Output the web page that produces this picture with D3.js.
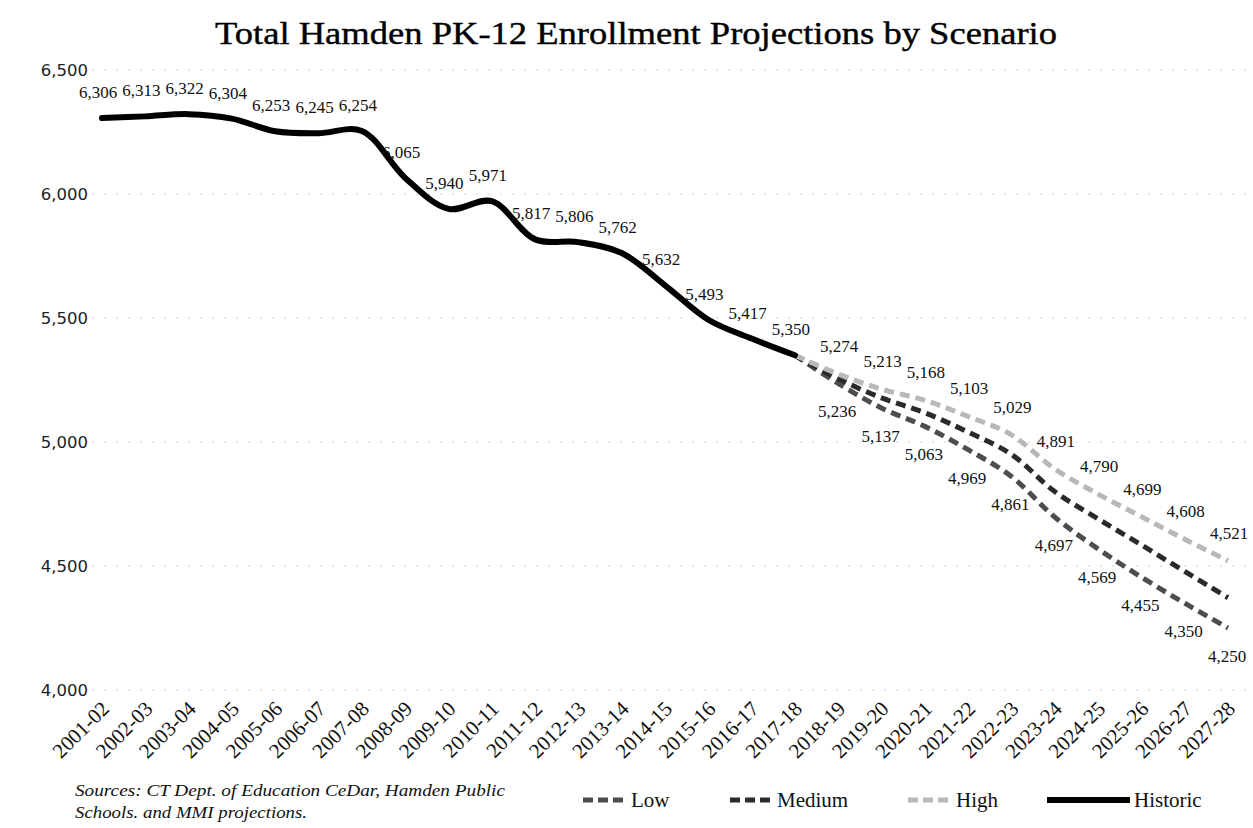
<!DOCTYPE html>
<html>
<head>
<meta charset="utf-8">
<script src="https://cdn.jsdelivr.net/npm/d3@7"></script>
<style>
  html, body { margin: 0; padding: 0; background: #fff; }
  svg { display: block; }
</style>
</head>
<body>
<svg id="chart" width="1253" height="828"></svg>
<script>
const categories = ["2001-02","2002-03","2003-04","2004-05","2005-06","2006-07","2007-08","2008-09","2009-10","2010-11","2011-12","2012-13","2013-14","2014-15","2015-16","2016-17","2017-18","2018-19","2019-20","2020-21","2021-22","2022-23","2023-24","2024-25","2025-26","2026-27","2027-28"];
const historic = [6306,6313,6322,6304,6253,6245,6254,6065,5940,5971,5817,5806,5762,5632,5493,5417,5350];
// projections start from the last historic year (2017-18)
const projYears = ["2017-18","2018-19","2019-20","2020-21","2021-22","2022-23","2023-24","2024-25","2025-26","2026-27","2027-28"];
const low    = [5350,5236,5137,5063,4969,4861,4697,4569,4455,4350,4250];
const medium = [5350,5255,5178,5118,5040,4950,4800,4690,4585,4478,4372];
const high   = [5350,5274,5213,5168,5103,5029,4891,4790,4699,4608,4521];
const yTicks = [4000,4500,5000,5500,6000,6500];

const svg = d3.select("#chart");
const serif = "'Liberation Serif', 'Times New Roman', serif";
const sans = "'DejaVu Sans', Verdana, sans-serif";

const x = d3.scalePoint().domain(categories).range([102, 1228]);
const y = d3.scaleLinear().domain([4000, 6500]).range([690, 70]);
const fmt = d3.format(",");

// Title
svg.append("text")
  .attr("x", 636).attr("y", 44)
  .attr("text-anchor", "middle")
  .attr("font-family", serif).attr("font-size", 31)
  .attr("textLength", 842).attr("lengthAdjust", "spacingAndGlyphs")
  .attr("fill", "#000").attr("stroke", "#000").attr("stroke-width", 0.4)
  .text("Total Hamden PK-12 Enrollment Projections by Scenario");

// Gridlines
svg.append("g").selectAll("line").data(yTicks).join("line")
  .attr("x1", 80).attr("x2", 1250)
  .attr("y1", d => y(d)).attr("y2", d => y(d))
  .attr("stroke", "#cfcfcf").attr("stroke-width", 1)
  .attr("stroke-dasharray", "2,10");

// Y axis labels
const yAxis = d3.axisLeft(y).tickValues(yTicks).tickFormat(fmt).tickSize(0).tickPadding(0);
const yg = svg.append("g").attr("transform", "translate(88,0)").call(yAxis);
yg.select(".domain").remove();
yg.selectAll("text").attr("font-family", sans).attr("font-size", 16.5).attr("fill", "#222");

// X axis labels
const xAxis = d3.axisBottom(x).tickSize(0).tickPadding(0);
const xg = svg.append("g").attr("transform", "translate(0,700)").call(xAxis);
xg.select(".domain").remove();
xg.selectAll("text")
  .attr("font-family", serif).attr("font-size", 21).attr("fill", "#111")
  .attr("text-anchor", "end")
  .attr("dy", null)
  .attr("transform", "translate(8,10) rotate(-45)");

// Lines
const lineGen = d3.line().curve(d3.curveCatmullRom.alpha(0.5));
const histPts = historic.map((v, i) => [x(categories[i]), y(v)]);
const series = [
  {name: "Low", vals: low, color: "#4d4d4d", dash: "10,6"},
  {name: "Medium", vals: medium, color: "#2a2a2a", dash: "10,6"},
  {name: "High", vals: high, color: "#b8b8b8", dash: "10,6"}
];
series.forEach(s => {
  svg.append("path")
    .attr("d", lineGen(s.vals.map((v, i) => [x(projYears[i]), y(v)])))
    .attr("fill", "none").attr("stroke", s.color)
    .attr("stroke-width", 5).attr("stroke-dasharray", s.dash)
    .attr("stroke-linecap", "butt");
});
svg.append("path")
  .attr("d", lineGen(histPts))
  .attr("fill", "none").attr("stroke", "#000")
  .attr("stroke-width", 6).attr("stroke-linecap", "round");

// Data labels
const lbl = svg.append("g").attr("font-family", serif).attr("font-size", 17).attr("fill", "#111").attr("text-anchor", "middle");
historic.forEach((v, i) => {
  lbl.append("text").attr("x", x(categories[i]) - 4).attr("y", y(v) - 20).text(fmt(v));
});
high.slice(1).forEach((v, i) => {
  lbl.append("text").attr("x", x(projYears[i + 1]) + 1).attr("y", y(v) - 22).text(fmt(v));
});
low.slice(1).forEach((v, i) => {
  lbl.append("text").attr("x", x(projYears[i + 1]) - 1).attr("y", y(v) + 34).text(fmt(v));
});

// Legend
const legY = 800;
const legend = svg.append("g");
const legItems = [
  {name: "Low", color: "#4d4d4d", x0: 583, x1: 627, dash: "10,5", w: 5},
  {name: "Medium", color: "#2a2a2a", x0: 730, x1: 773, dash: "10,5", w: 5},
  {name: "High", color: "#b8b8b8", x0: 908, x1: 952, dash: "10,5", w: 5},
  {name: "Historic", color: "#000", x0: 1047, x1: 1130, dash: null, w: 6}
];
legItems.forEach(d => {
  legend.append("line").attr("x1", d.x0).attr("x2", d.x1).attr("y1", legY).attr("y2", legY)
    .attr("stroke", d.color).attr("stroke-width", d.w)
    .attr("stroke-dasharray", d.dash);
  legend.append("text").attr("x", d.x1 + 4).attr("y", legY + 7)
    .attr("font-family", serif).attr("font-size", 21).attr("fill", "#111").text(d.name);
});

// Source note
const src = svg.append("g").attr("font-family", serif).attr("font-style", "italic").attr("font-size", 17).attr("fill", "#111");
src.append("text").attr("x", 75).attr("y", 796).attr("textLength", 430).attr("lengthAdjust", "spacingAndGlyphs")
  .text("Sources: CT Dept. of Education CeDar, Hamden Public");
src.append("text").attr("x", 75).attr("y", 818).attr("textLength", 232).attr("lengthAdjust", "spacingAndGlyphs")
  .text("Schools. and MMI projections.");
</script>
</body>
</html>
